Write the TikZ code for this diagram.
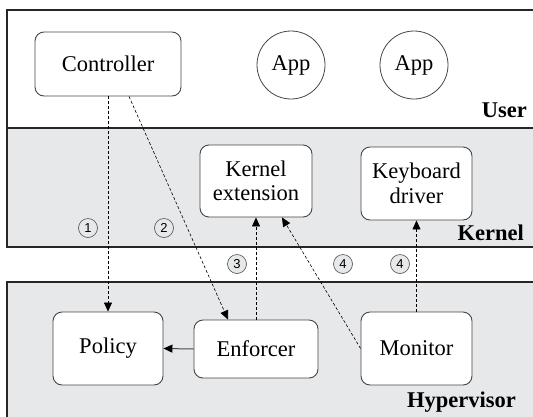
\documentclass[tikz,border=0pt]{standalone}
\usepackage{fontspec}
\setmainfont{Liberation Serif}
\newfontfamily\numfont{Liberation Sans}
\usetikzlibrary{positioning}
\usetikzlibrary{arrows.meta}
\definecolor{layergray}{RGB}{231,232,234}
\definecolor{boxline}{RGB}{70,70,70}
\tikzset{box/.style={draw=boxline, line width=0.9pt, fill=white, rounded corners=9pt, align=center, inner sep=0pt, font=\fontsize{22.5}{24.5}\selectfont}}
\tikzset{app/.style={draw=boxline, line width=0.8pt, fill=white, circle, minimum size=68pt, inner sep=0pt, font=\fontsize{22.5}{24.5}\selectfont}}
\tikzset{layer/.style={draw=black!85, line width=1.5pt}}
\tikzset{layername/.style={inner sep=0pt, font=\fontsize{22.5}{24}\selectfont\bfseries}}
\tikzset{numcirc/.style={circle, draw=black!70, fill=layergray, line width=0.6pt, minimum size=19pt, inner sep=0pt, font=\numfont\fontsize{13}{14}\selectfont}}
\tikzset{flow/.style={dash pattern=on 3pt off 2pt, line width=0.6pt, -{Triangle[length=9pt, width=8pt]}}}

\begin{document}
\begin{tikzpicture}[x=1pt, y=-1pt]
    \useasboundingbox (0,0) rectangle (533,416);
    \clip (0,0) rectangle (533,416);

    \draw[layer, fill=white] (7,10) rectangle (560,128);
    \draw[layer, fill=layergray] (7,128) rectangle (560,247);
    \draw[layer, fill=layergray] (7,282) rectangle (560,450);

    \node[layername, anchor=base east] (userlbl) at (527,117) {User};
    \node[layername, anchor=base east] (kernlbl) at (524,240) {Kernel};
    \node[layername, anchor=base east] (hyplbl) at (516,407) {Hypervisor};

    \node[box, minimum width=146pt, minimum height=64pt] (controller) at (108,64) {Controller};
    \node[app] (app1) at (291,65) {App};
    \node[app] (app2) at (414,65) {App};

    \node[box, minimum width=112pt, minimum height=72pt] (kext) at (256,181) {Kernel\\extension};
    \node[box, minimum width=111pt, minimum height=73pt] (kbd) at (416.5,183.5) {Keyboard\\driver};

    \node[box, minimum width=110pt, minimum height=73pt] (policy) at (108,348.5) {Policy};
    \node[box, minimum width=124pt, minimum height=58pt] (enforcer) at (256,349) {Enforcer};
    \node[box, minimum width=111pt, minimum height=73pt] (monitor) at (416.5,348.5) {Monitor};

    \node[numcirc] (num1) at (88,228) {1};
    \node[numcirc] (num2) at (164,228) {2};
    \node[numcirc] (num3) at (237,264) {3};
    \node[numcirc] (num4a) at (343,264) {4};
    \node[numcirc] (num4b) at (400,264) {4};

    \draw[flow] (controller.south) -- (policy.north);
    \draw[flow] ([xshift=21pt]controller.south) -- ([xshift=-28pt]enforcer.north);
    \draw[flow] (enforcer.north) -- (kext.south);
    \draw[flow] (monitor.west) -- ([xshift=26pt]kext.south);
    \draw[flow] (monitor.north) -- (kbd.south);
    \draw[draw=boxline, line width=1pt, -{Triangle[length=9pt, width=8pt, color=black]}] (enforcer.west) -- (policy.east);

    % \draw[help lines] (0,0) grid[step=20] (533,416);
\end{tikzpicture}
\end{document}
